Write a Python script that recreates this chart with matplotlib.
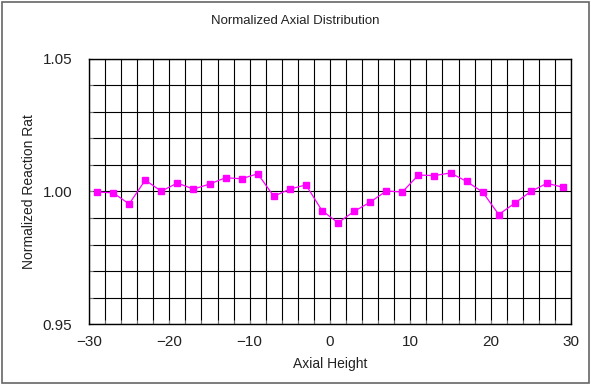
import numpy as np
import matplotlib
matplotlib.use('Agg')
import matplotlib.pyplot as plt
from matplotlib.ticker import MultipleLocator

# axial positions and normalized reaction rate
altura = [-29, -27, -25, -23, -21, -19, -17, -15, -13, -11, -9, -7, -5, -3, -1,
          1, 3, 5, 7, 9, 11, 13, 15, 17, 19, 21, 23, 25, 27, 29]
taxa = [0.9998, 0.9995, 0.9953, 1.0043, 1.0001, 1.0032, 1.0009, 1.0028, 1.0052, 1.0048,
        1.0067, 0.9982, 1.0009, 1.0025, 0.9928, 0.9882, 0.9925, 0.9960, 1.0002, 0.9998,
        1.0062, 1.0060, 1.0070, 1.0038, 0.9998, 0.9913, 0.9956, 1.0000, 1.0031, 1.0016]

plt.rcParams['font.family'] = ['Liberation Sans', 'DejaVu Sans']

fig = plt.figure(figsize=(5.91, 3.85), dpi=100)
ax = fig.add_axes([0.1506, 0.1584, 0.8156, 0.6884])

ax.plot(altura, taxa, color='#ff00ff', lw=0.9, marker='s', ms=4.5, zorder=3)

ax.set_xlim(-30, 30)
ax.set_ylim(0.95, 1.05)
ax.xaxis.set_major_locator(MultipleLocator(10))
ax.xaxis.set_minor_locator(MultipleLocator(2))
ax.yaxis.set_major_locator(MultipleLocator(0.05))
ax.yaxis.set_minor_locator(MultipleLocator(0.01))
ax.yaxis.set_major_formatter(plt.FormatStrFormatter('%.2f'))
ax.grid(True, which='both', color='black', lw=0.8)
ax.tick_params(which='both', direction='in', length=3, labelsize=11, color='#888888',
               labelcolor='#222222')
ax.tick_params(axis='y', pad=12)
ax.tick_params(axis='x', pad=8)
for s in ax.spines.values():
    s.set_color('black')
    s.set_linewidth(1.0)

ax.set_xlabel('Axial Height', fontsize=10, labelpad=6, color='#222222')
ax.set_ylabel('Normalized Reaction Rat', fontsize=10, labelpad=5, color='#222222')
fig.text(0.5, 0.945, 'Normalized Axial Distribution', ha='center', va='center', fontsize=9.5,
         color='#222222')

fig.patches.append(plt.Rectangle((0.003, 0.004), 0.994, 0.992, transform=fig.transFigure,
                                 fill=False, edgecolor='#666666', lw=1.2))

fig.savefig('out.png', dpi=100)
